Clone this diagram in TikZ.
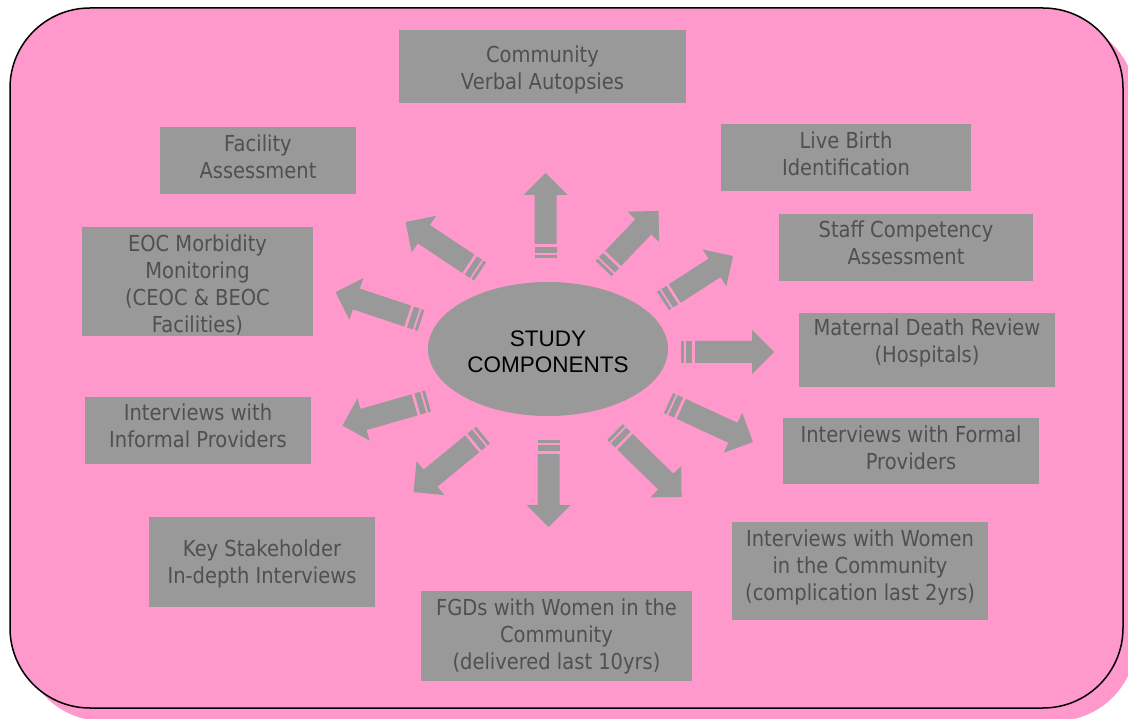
\documentclass[tikz,border=0pt]{standalone}
\usepackage{fontspec}
\usetikzlibrary{shapes.geometric}
\newfontfamily\boxfont[FakeStretch=0.886]{DejaVu Sans}
\newfontfamily\elfont{Liberation Sans}
\definecolor{bgpink}{HTML}{FF99CC}
\definecolor{boxgray}{HTML}{999999}
\definecolor{txtgray}{HTML}{505050}
\tikzset{
  boxrect/.style={fill=boxgray, inner sep=0pt, outer sep=0pt},
  boxtxt/.style={font=\boxfont\fontsize{22}{27}\selectfont, text=txtgray, align=center, inner sep=0pt},
  coreshape/.style={ellipse, fill=boxgray, inner sep=0pt, minimum width=240pt, minimum height=134pt},
  coretxt/.style={font=\elfont\fontsize{22.5}{26}\selectfont, text=black, align=center, inner sep=0pt},
  frame/.style={line width=1.5pt, draw=black, fill=bgpink, rounded corners=80pt},
  shadowframe/.style={fill=bgpink, rounded corners=80pt},
}
\newcommand\stripedarrow[4]{%
  \begin{scope}[shift={(#1,#2)}, rotate=#3]
    \fill[boxgray] (0,-11) rectangle (3,11);
    \fill[boxgray] (5,-11) rectangle (11,11);
    \fill[boxgray] (14,-11) -- ({#4-22},-11) -- ({#4-22},-22) -- (#4,0) -- ({#4-22},22) -- ({#4-22},11) -- (14,11) -- cycle;
  \end{scope}}
\begin{document}
\begin{tikzpicture}[x=1pt,y=-1pt]
\useasboundingbox (0,0) rectangle (1128,719);
\path[shadowframe] (23,21) rectangle (1136,721);
\path[frame] (10,8) rectangle (1123,708);

% boxes
\node[boxrect, minimum width=287pt, minimum height=73pt] (b1) at (542.5,66.5) {};
\node[boxtxt] (t1) at (542.5,70) {Community\\Verbal Autopsies};
\node[boxrect, minimum width=196pt, minimum height=67pt] (b2) at (258,160.5) {};
\node[boxtxt] (t2) at (258,156.5) {Facility\\Assessment};
\node[boxrect, minimum width=250pt, minimum height=67pt] (b3) at (846,157.5) {};
\node[boxtxt] (t3) at (846,153.5) {Live Birth\\Identification};
\node[boxrect, minimum width=254pt, minimum height=67pt] (b4) at (906,247.5) {};
\node[boxtxt] (t4) at (906,243) {Staff Competency\\Assessment};
\node[boxrect, minimum width=231pt, minimum height=109pt] (b5) at (197.5,281.5) {};
\node[boxtxt] (t5) at (197.5,285) {EOC Morbidity\\Monitoring\\(CEOC \& BEOC\\Facilities)};
\node[boxrect, minimum width=256pt, minimum height=74pt] (b6) at (927,350) {};
\node[boxtxt] (t6) at (927,342.5) {Maternal Death Review\\(Hospitals)};
\node[boxrect, minimum width=256pt, minimum height=66pt] (b7) at (911,451) {};
\node[boxtxt] (t7) at (911,447.5) {Interviews with Formal\\Providers};
\node[boxrect, minimum width=226pt, minimum height=67pt] (b8) at (198,430.5) {};
\node[boxtxt] (t8) at (198,426) {Interviews with\\Informal Providers};
\node[boxrect, minimum width=226pt, minimum height=90pt] (b9) at (262,562) {};
\node[boxtxt] (t9) at (262,563.5) {Key Stakeholder\\In-depth Interviews};
\node[boxrect, minimum width=271pt, minimum height=90pt] (b10) at (556.5,636) {};
\node[boxtxt] (t10) at (556.5,636) {FGDs with Women in the\\Community\\(delivered last 10yrs)};
\node[boxrect, minimum width=256pt, minimum height=98pt] (b11) at (860,571) {};
\node[boxtxt] (t11) at (860,567.5) {Interviews with Women\\in the Community\\(complication last 2yrs)};

% centre
\node[coreshape] (core) at (548,349) {};
\node[coretxt] (coretext) at (548,351.5) {STUDY\\COMPONENTS};

% arrows
\stripedarrow{545.5}{258}{90}{85}
\stripedarrow{603.5}{268.5}{46.3}{79.6}
\stripedarrow{663}{301}{32.7}{83.2}
\stripedarrow{681}{352}{0}{93}
\stripedarrow{668.5}{403}{-24.8}{93}
\stripedarrow{615}{432}{-44.3}{93}
\stripedarrow{548.5}{440}{-90}{87}
\stripedarrow{483}{435}{219.4}{89.9}
\stripedarrow{428}{401}{196}{89}
\stripedarrow{421}{320.5}{161.6}{90.1}
\stripedarrow{480}{271.5}{146.4}{89.4}
\end{tikzpicture}
\end{document}
